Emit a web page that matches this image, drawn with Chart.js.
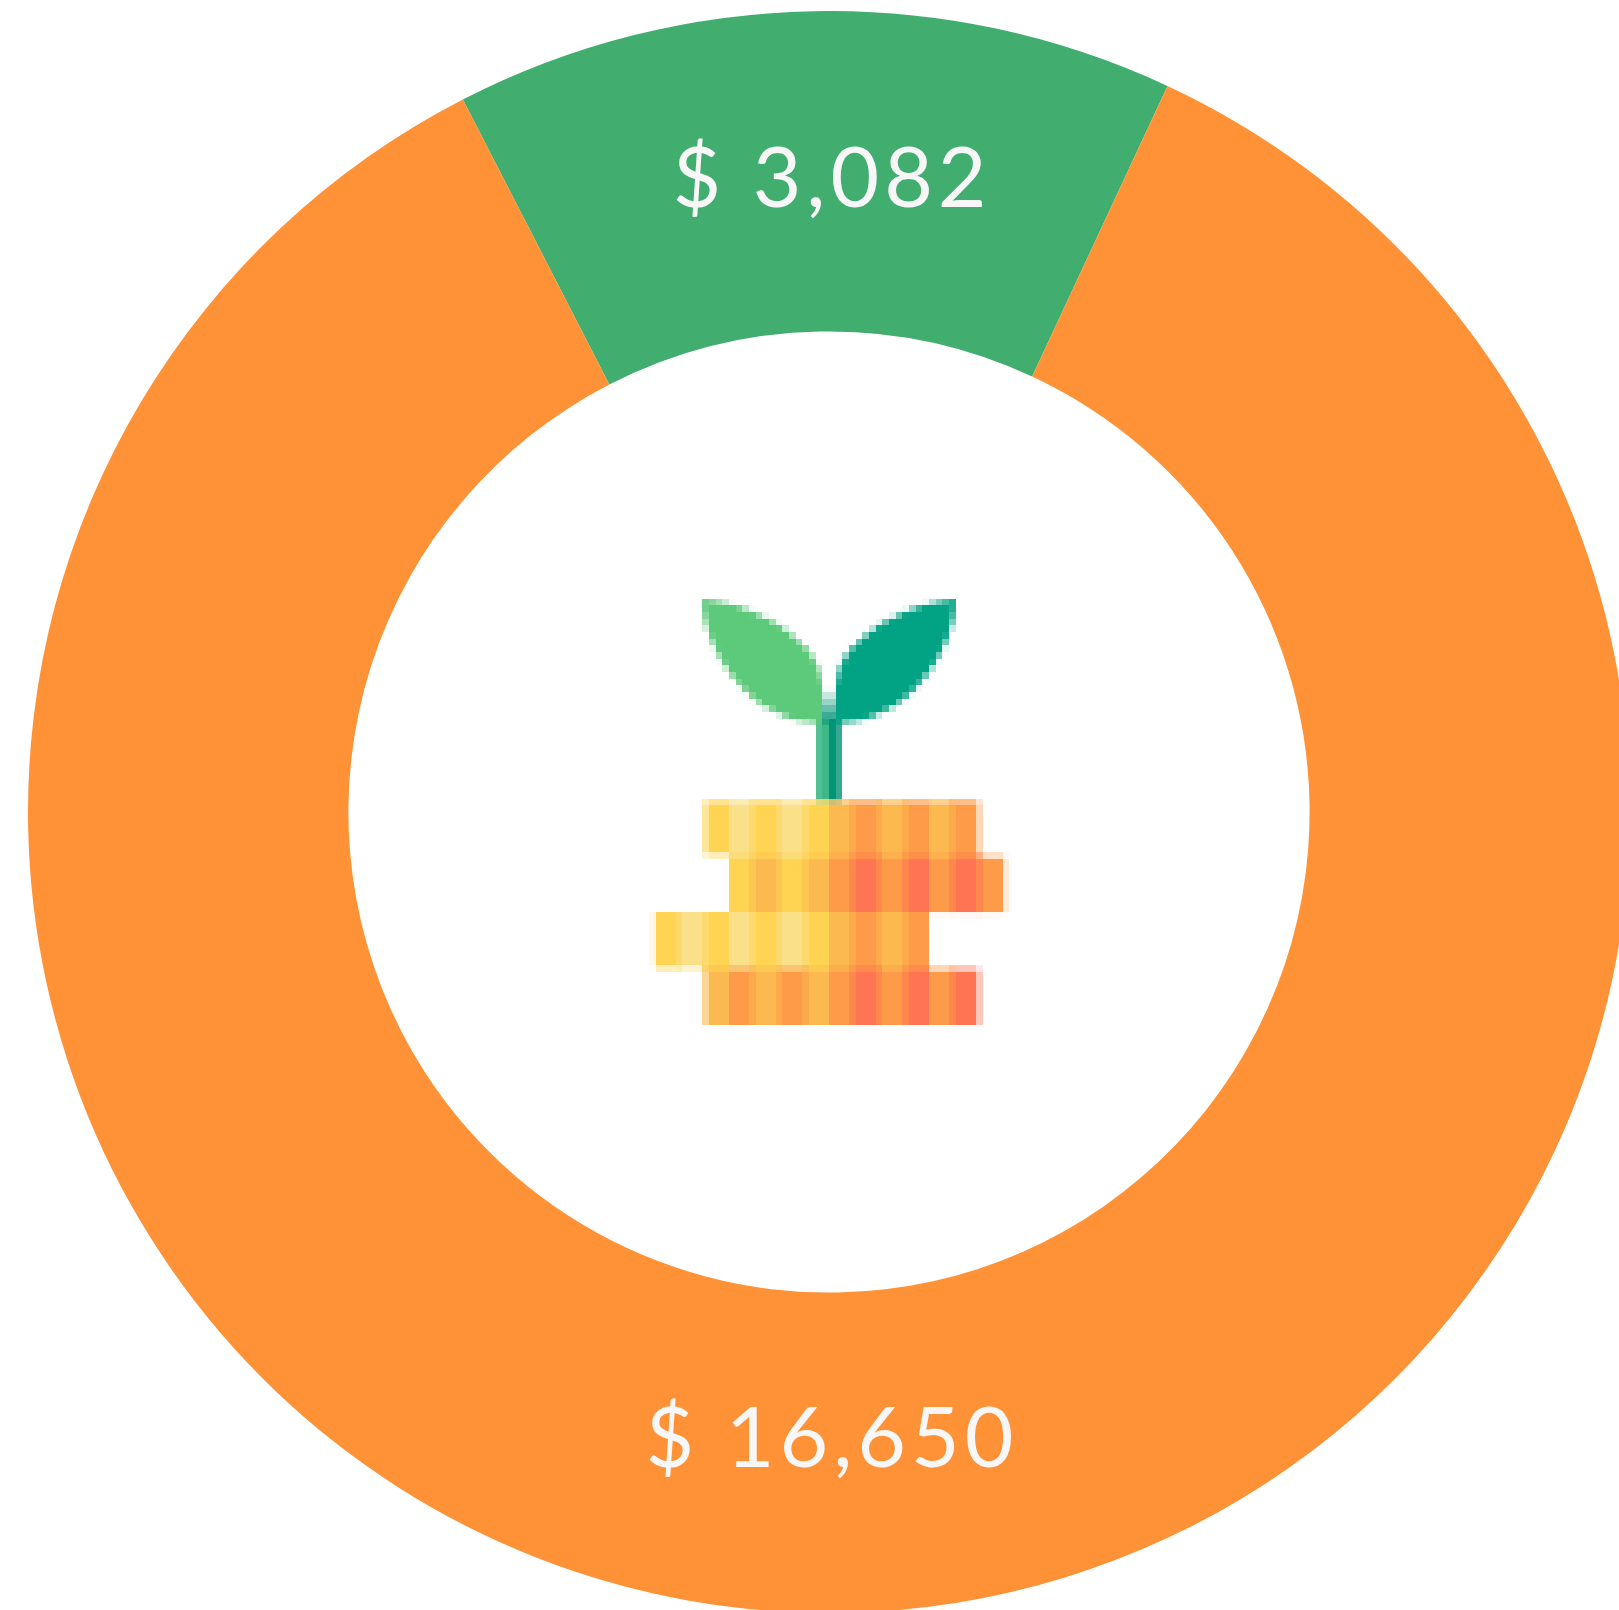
<!DOCTYPE html>
<html>
<head>
<meta charset="utf-8">
<title>Savings</title>
<script src="https://cdn.jsdelivr.net/npm/chart.js@4/dist/chart.umd.js"></script>
<style>
    html, body { margin: 0; height: 100%; background: #fff; overflow: hidden; }
    #savingsChart { position: absolute; left: 28px; top: 11px; }
</style>
</head>
<body>
<canvas id="savingsChart" width="1602" height="1602"></canvas>
<script>
const categories = ['Green', 'Orange'];
const amounts = [3082, 16650];
// the ring does not split in proportion to the printed amounts, so sweep is read off the picture (degrees)
const sweeps = [52.2, 307.8];
const colors = ['#41ad6e', '#ff9236'];

const Y = '#ffd452', L = '#fbe08a', O1 = '#fcb94f', O2 = '#fd9b49', R = '#ff7452';

// small picture in the hole, drawn low-res then blown up like the original bitmap
function makeIcon() {
    const icon = document.createElement('canvas');
    icon.width = 54;
    icon.height = 64;
    const c = icon.getContext('2d');

    // stem
    c.fillStyle = '#3fb888';
    c.fillRect(25.1, 18, 1.9, 12.5);
    c.fillStyle = '#049478';
    c.fillRect(27, 18, 1.8, 12.5);
    c.beginPath(); c.moveTo(26, 18.5); c.lineTo(27, 13.5); c.lineTo(28, 18.5); c.fill();

    // leaves
    c.fillStyle = '#5dc97a';
    c.beginPath();
    c.moveTo(8, 0);
    c.bezierCurveTo(15, 0.4, 26, 6, 26, 13);
    c.lineTo(26, 18.7);
    c.bezierCurveTo(16, 18.7, 8.3, 9, 8, 0);
    c.fill();
    c.fillStyle = '#02a384';
    c.beginPath();
    c.moveTo(46, 0);
    c.bezierCurveTo(39, 0.4, 28, 6, 28, 13);
    c.lineTo(28, 18.7);
    c.bezierCurveTo(38, 18.7, 45.7, 9, 46, 0);
    c.fill();

    // coins, each stripe runs under the start of the next so the edges blend
    function coin(top, bottom, right, stripes) {
        stripes.forEach(function(s, i) {
            const next = i + 1 < stripes.length ? Math.ceil(stripes[i + 1][0]) : right;
            c.fillStyle = s[1];
            c.fillRect(s[0], top, next - s[0], bottom - top);
        });
    }
    // same coin again, only in the pixel row it shares with the coin below
    function underlap(x, row, w, draw) {
        c.save();
        c.beginPath();
        c.rect(x, row, w, 1);
        c.clip();
        draw(row + 1);
        c.restore();
    }
    const coin1 = [[8.4, Y], [12, L], [15.5, Y], [19.5, L], [23.5, Y], [27, O1], [30.5, O2], [34.5, O1], [38.5, O2], [42, O1], [45.5, O2]];
    const coin2 = [[12, Y], [15.5, O1], [19.5, Y], [23.5, O1], [27, O2], [30.5, R], [34.5, O2], [38.5, R], [42, O2], [45.5, R], [49.5, O2]];
    const coin3 = [[0.85, Y], [4.5, L], [8.5, Y], [12, L], [15.5, Y], [19.5, L], [23.5, Y], [27, O1], [30.5, O2], [34.5, O1], [38.5, O2]];
    const coin4 = [[8.4, O1], [12, O2], [15.5, O1], [19.5, O2], [23.5, O1], [27, O2], [30.5, R], [34.5, O2], [38.5, R], [42, O2], [45.5, R]];

    coin(30.35, 38.4, 49.4, coin1);
    underlap(12, 38, 38, function(b) { coin(30.35, b, 49.4, coin1); });
    coin(38.7, 47.05, 53.2, coin2);
    coin(47, 55.4, 42, coin3);
    underlap(8, 55, 34, function(b) { coin(47, b, 42, coin3); });
    coin(55.6, 64, 49.4, coin4);
    return icon;
}

const ringExtras = {
    id: 'ringExtras',
    afterDraw: function(chart) {
        const ctx = chart.ctx;
        const arc = chart.getDatasetMeta(0).data[0];
        const cx = arc.x, cy = arc.y;

        ctx.save();
        ctx.imageSmoothingEnabled = false;
        ctx.drawImage(makeIcon(), cx - 180, cy - 213.5, 54 * 6.67, 64 * 6.67);

        ctx.fillStyle = '#f7f7f7';
        ctx.font = '400 84px Lato';
        ctx.letterSpacing = '5px';
        ctx.textAlign = 'center';
        ctx.textBaseline = 'alphabetic';
        ctx.fillText('$ ' + amounts[0].toLocaleString('en-US'), cx + 3, cy - 605);
        ctx.fillText('$ ' + amounts[1].toLocaleString('en-US'), cx + 3, cy + 655);
        ctx.restore();
    }
};

new Chart(document.getElementById('savingsChart'), {
    type: 'doughnut',
    data: {
        labels: categories,
        datasets: [{
            data: sweeps,
            backgroundColor: colors,
            borderWidth: 0
        }]
    },
    options: {
        responsive: false,
        animation: false,
        rotation: -27.2,
        cutout: '60%',
        plugins: {
            legend: { display: false },
            tooltip: { enabled: false }
        }
    },
    plugins: [ringExtras]
});
</script>
</body>
</html>
